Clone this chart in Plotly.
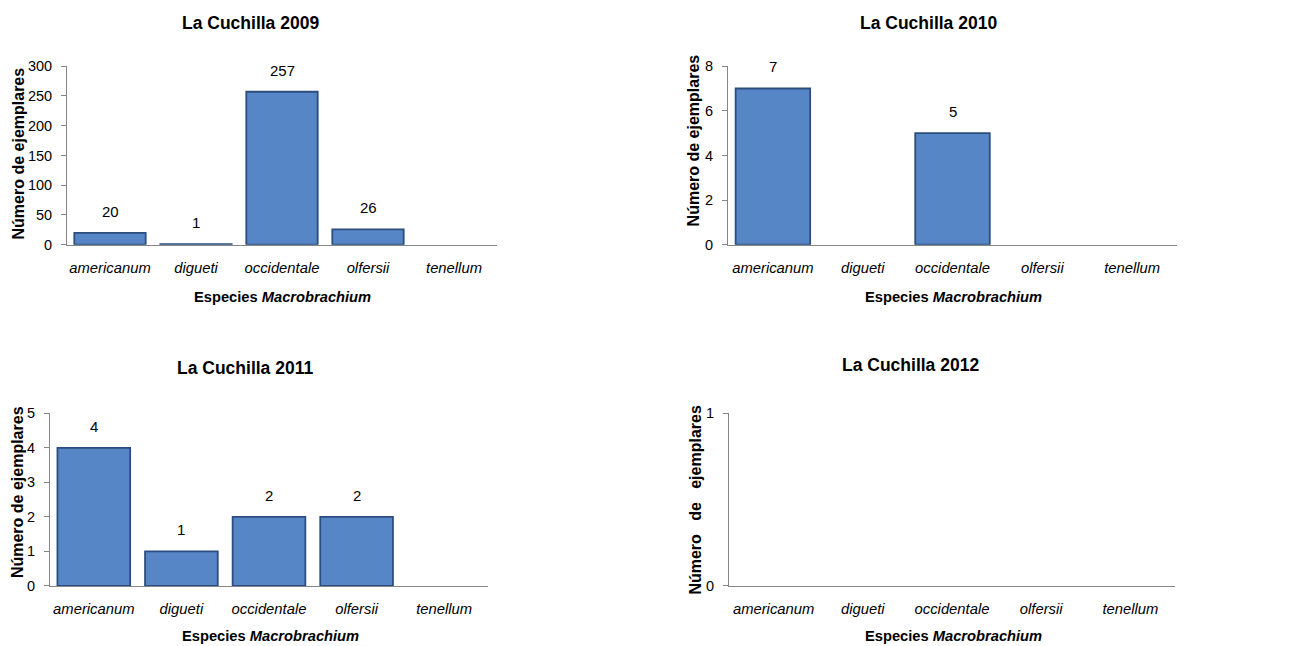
import plotly.graph_objects as go

species = ['americanum', 'digueti', 'occidentale', 'olfersii', 'tenellum']

years = ['2009', '2010', '2011', '2012']
counts_2009 = [20, 1, 257, 26, 0]
counts_2010 = [7, 0, 5, 0, 0]
counts_2011 = [4, 1, 2, 2, 0]
counts_2012 = [0, 0, 0, 0, 0]

y_max = [300, 8, 5, 1]
y_step = [50, 2, 1, 1]

W, H = 1308, 646
FONT = 'Liberation Sans, Arial, sans-serif'
AXIS_GREY = '#868686'
BAR_BLUE = '#5686C6'
BAR_EDGE = '#2C4E7E'

# target positions in screen pixels: plot areas (left, right, top, bottom)
boxes = [(67, 497, 67, 245), (728, 1177, 67, 245),
         (50, 488, 413, 585), (729, 1175, 413, 585)]
title_pos = [(250, 24), (928, 24), (245, 368), (910, 365)]
xtitle_pos = [(282, 297), (953, 297), (270, 635), (953, 635)]
ytitle_pos = [(18, 154), (693, 141), (17.5, 492), (696, 499)]

# the page is shown shifted / squeezed a little, compensate
OX, OY, SY = 8, 17, 0.972


def px(x):
    return (x - OX) / W


def py(y):
    return 1 - ((y - OY) / SY) / H


fig = go.Figure()
all_counts = [counts_2009, counts_2010, counts_2011, counts_2012]
annotations = []

for i, (year, counts) in enumerate(zip(years, all_counts)):
    n = '' if i == 0 else str(i + 1)
    xa, ya = 'x' + n, 'y' + n
    l, r, t, b = boxes[i]

    fig.add_trace(go.Bar(
        x=species, y=counts, xaxis=xa, yaxis=ya,
        marker=dict(color=BAR_BLUE,
                    line=dict(color=BAR_EDGE,
                              width=[1.8 if v > 0 else 0 for v in counts])),
        showlegend=False, hoverinfo='x+y'
    ))

    fig.layout['xaxis' + n] = dict(
        domain=[px(l), px(r)], anchor=ya,
        showline=True, linecolor=AXIS_GREY, linewidth=1,
        ticks='outside', ticklen=9, tickcolor='rgba(0,0,0,0)',
        tickfont=dict(family=FONT, size=14.8, color='black', style='italic'),
        showgrid=False, zeroline=False, fixedrange=True
    )
    fig.layout['yaxis' + n] = dict(
        domain=[py(b), py(t)], anchor=xa,
        range=[0, y_max[i]], dtick=y_step[i], tick0=0,
        showline=True, linecolor=AXIS_GREY, linewidth=1,
        ticks='outside', ticklen=5, tickcolor=AXIS_GREY,
        ticklabelstandoff=6,
        tickfont=dict(family=FONT, size=14.5, color='black'),
        showgrid=False, zeroline=False, fixedrange=True
    )

    # data labels
    if i < 3:
        for s, v in zip(species, counts):
            if v > 0:
                annotations.append(dict(
                    x=s, y=v, xref=xa, yref=ya, text=str(v),
                    showarrow=False, yanchor='middle', yshift=21.5,
                    font=dict(family=FONT, size=15, color='black')
                ))

    tx, ty = title_pos[i]
    annotations.append(dict(
        x=px(tx), y=py(ty), xref='paper', yref='paper',
        text='<b>La Cuchilla ' + year + '</b>', showarrow=False,
        xanchor='center', yanchor='middle',
        font=dict(family=FONT, size=17.5, color='black')
    ))
    xx, xy = xtitle_pos[i]
    annotations.append(dict(
        x=px(xx), y=py(xy), xref='paper', yref='paper',
        text='<b>Especies <i>Macrobrachium</i></b>', showarrow=False,
        xanchor='center', yanchor='middle',
        font=dict(family=FONT, size=14.7, color='black')
    ))
    yx, yy = ytitle_pos[i]
    ytxt = 'Número de ejemplares' if i < 3 else 'Número\u00a0\u00a0 de\u00a0\u00a0 ejemplares'
    annotations.append(dict(
        x=px(yx), y=py(yy), xref='paper', yref='paper',
        text='<b>' + ytxt + '</b>', showarrow=False, textangle=-90,
        xanchor='center', yanchor='middle',
        font=dict(family=FONT, size=16, color='black')
    ))

fig.update_layout(
    width=W, height=H,
    margin=dict(l=0, r=0, t=0, b=0),
    paper_bgcolor='white', plot_bgcolor='white',
    bargap=0.17,
    annotations=annotations,
    font=dict(family=FONT, color='black')
)

fig.write_html("out.html")
